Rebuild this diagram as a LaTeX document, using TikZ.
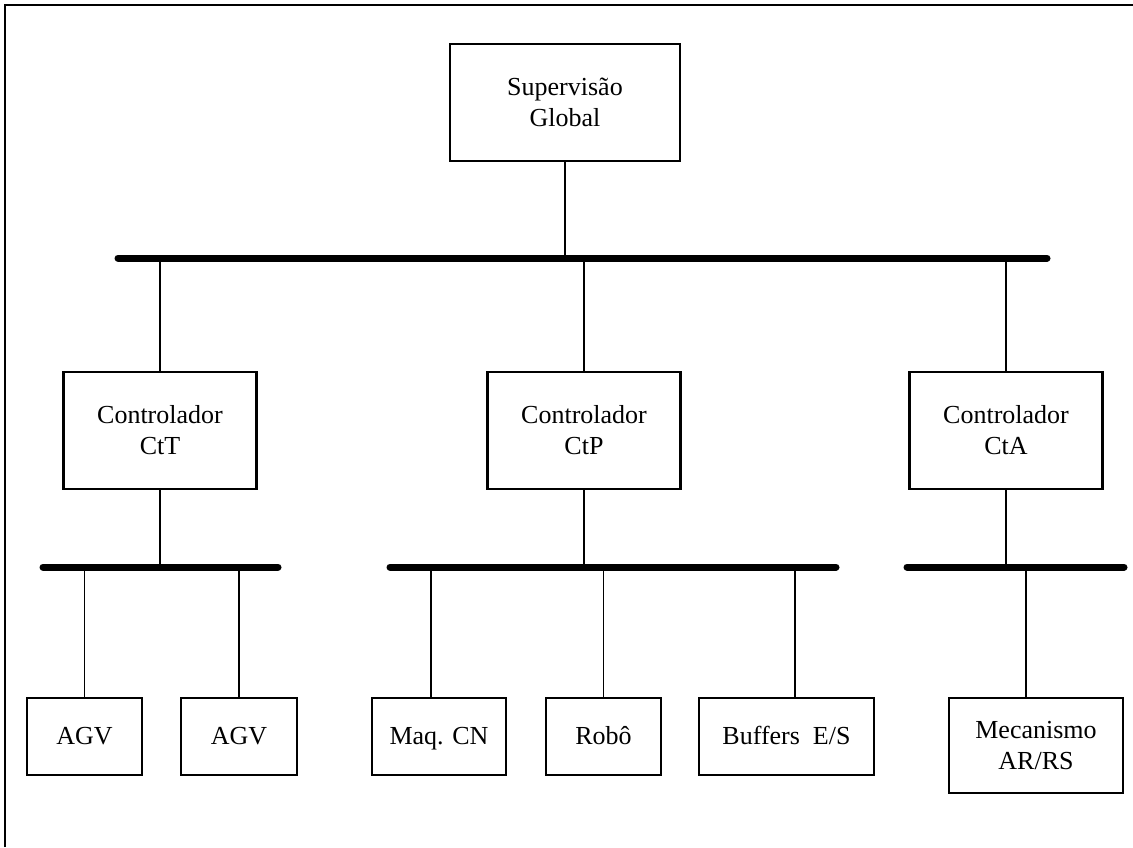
\documentclass[tikz,border=0pt]{standalone}
\usepackage{fontspec}
\setmainfont{Liberation Serif}
\begin{document}
\begin{tikzpicture}[x=1pt,y=-1pt,
  box/.style={draw, line width=2.6pt, inner sep=0pt, align=center,
              font=\fontsize{26}{31}\selectfont},
  ctrl/.style={box, minimum width=193, minimum height=117},
  unit/.style={box, minimum height=77, text height=16pt, text depth=0pt},
  bus/.style={line width=7pt, line cap=round},
  wire/.style={line width=1.3pt},
  frame/.style={line width=1.8pt}]
\useasboundingbox (0,0) rectangle (1133,847);

% page frame (left and top edges)
\coordinate (fBL) at (5,847);
\coordinate (fTL) at (5,5);
\coordinate (fTR) at (1133,5);
\draw[frame] (fBL) -- (fTL) -- (fTR);

% supervisor
\node[box, minimum width=230, minimum height=117] (sup) at (565,102.5) {Supervisão\\Global};

% main bus
\coordinate (busT1) at (118,258);
\coordinate (busT2) at (1047,258);
\draw[bus] (busT1) -- (busT2);

% controllers
\node[ctrl] (ctT) at (160,430.5) {Controlador\\CtT};
\node[ctrl] (ctP) at (584,430.5) {Controlador\\CtP};
\node[ctrl] (ctA) at (1006,430.5) {Controlador\\CtA};

% local buses
\coordinate (busL1) at (43,567);
\coordinate (busL2) at (278,567);
\coordinate (busM1) at (390,567);
\coordinate (busM2) at (836,567);
\coordinate (busR1) at (907,567);
\coordinate (busR2) at (1124,567);
\draw[bus] (busL1) -- (busL2);
\draw[bus] (busM1) -- (busM2);
\draw[bus] (busR1) -- (busR2);

% devices
\node[unit, minimum width=115] (agv1) at (84.5,736.5) {AGV};
\node[unit, minimum width=116] (agv2) at (239,736.5) {AGV};
\node[unit, minimum width=134] (maq) at (439,736.5) {Maq. CN};
\node[unit, minimum width=115] (robo) at (603.5,736.5) {Robô};
\node[unit, minimum width=175] (buf) at (786.5,736.5) {Buffers\ \ E/S};
\node[box, minimum width=174, minimum height=95] (mec) at (1036,745.5) {Mecanismo\\AR/RS};

% drop points off the centre of their boxes
\coordinate (dMaq) at (431,567);
\coordinate (dBuf) at (795,567);
\coordinate (dMec) at (1026,567);

% connections
\draw[wire] (sup.south) -- (sup.south |- busT1);
\foreach \c in {ctT,ctP,ctA}{
  \draw[wire] (\c.north) -- (\c.north |- busT1);
}
\draw[wire] (ctT.south) -- (ctT.south |- busL1);
\draw[wire] (ctP.south) -- (ctP.south |- busM1);
\draw[wire] (ctA.south) -- (ctA.south |- busR1);
\draw[wire] (agv1.north) -- (agv1.north |- busL1);
\draw[wire] (agv2.north) -- (agv2.north |- busL1);
\draw[wire] (robo.north) -- (robo.north |- busM1);
\draw[wire] (dMaq) -- (dMaq |- maq.north);
\draw[wire] (dBuf) -- (dBuf |- buf.north);
\draw[wire] (dMec) -- (dMec |- mec.north);
\end{tikzpicture}
\end{document}
